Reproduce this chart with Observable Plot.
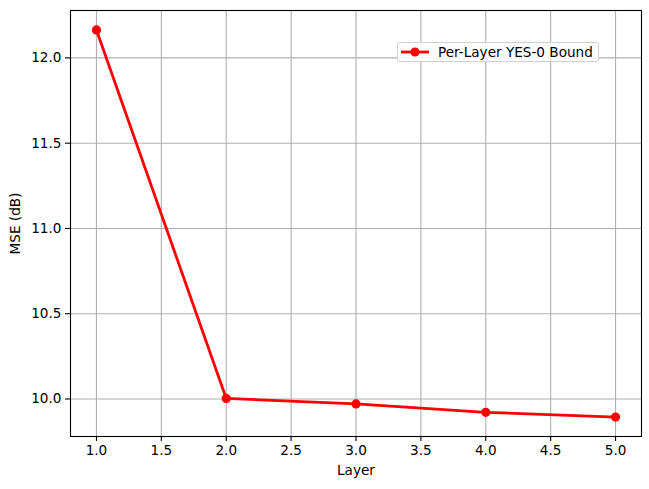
<!DOCTYPE html>
<html>
<head>
<meta charset="utf-8">
<script src="https://cdn.jsdelivr.net/npm/d3@7"></script>
<script src="https://cdn.jsdelivr.net/npm/@observablehq/plot@0.6"></script>
<style>
  body { margin: 0; background: #fff; }
  #wrap { position: relative; width: 649px; height: 489px; font-family: "DejaVu Sans", sans-serif; }
  #wrap svg text { font-size: 13.6px; font-family: "DejaVu Sans", sans-serif; fill: #000; }
  #legend {
    position: absolute; left: 397px; top: 42px; width: 202px; height: 20px;
    border: 1px solid #d0d0d0; border-radius: 3px; background: rgba(255,255,255,0.85);
    font-size: 13.6px; color: #000; display: flex; align-items: center; box-sizing: border-box;
  }
  #legend svg { margin-left: 3px; margin-right: 8px; }
</style>
</head>
<body>
<div id="wrap"></div>
<script>
const layers = [1, 2, 3, 4, 5];
const mse = [12.164, 10.003, 9.971, 9.922, 9.894];
const xTicks = [1.0, 1.5, 2.0, 2.5, 3.0, 3.5, 4.0, 4.5, 5.0];
const yTicks = [10.0, 10.5, 11.0, 11.5, 12.0];
const seriesName = "Per-Layer YES-0 Bound";
const xLabel = "Layer";
const yLabel = "MSE (dB)";

const data = layers.map((l, i) => ({layer: l, mse: mse[i]}));
const fmt = d3.format(".1f");

const chart = Plot.plot({
  width: 649,
  height: 489,
  marginLeft: 70,
  marginRight: 8,
  marginTop: 10,
  marginBottom: 53,
  style: {fontFamily: "DejaVu Sans, sans-serif", fontSize: "13.6px", color: "#000", background: "#fff"},
  x: {domain: [0.8, 5.2]},
  y: {domain: [9.78, 12.278]},
  marks: [
    Plot.gridX(xTicks, {stroke: "#b0b0b0", strokeOpacity: 1, strokeWidth: 1.1}),
    Plot.gridY(yTicks, {stroke: "#b0b0b0", strokeOpacity: 1, strokeWidth: 1.1}),
    Plot.axisX(xTicks, {tickFormat: fmt, tickSize: 5, tickPadding: 4, label: xLabel, labelAnchor: "center", labelOffset: 38, labelArrow: "none", strokeWidth: 1.1}),
    Plot.axisY(yTicks, {tickFormat: fmt, tickSize: 5, tickPadding: 4, label: yLabel, labelAnchor: "center", labelOffset: 60, labelArrow: "none", strokeWidth: 1.1}),
    Plot.line(data, {x: "layer", y: "mse", stroke: "red", strokeWidth: 2.8}),
    Plot.dot(data, {x: "layer", y: "mse", fill: "red", r: 4.6}),
    Plot.frame({stroke: "#000", strokeWidth: 1.1})
  ]
});
const wrap = document.getElementById("wrap");
wrap.appendChild(chart);

const legend = document.createElement("div");
legend.id = "legend";
legend.innerHTML = `<svg width="29" height="12"><line x1="0" y1="6" x2="28" y2="6" stroke="red" stroke-width="2.8"/><circle cx="14" cy="6" r="4.6" fill="red"/></svg><span>${seriesName}</span>`;
wrap.appendChild(legend);
</script>
</body>
</html>
